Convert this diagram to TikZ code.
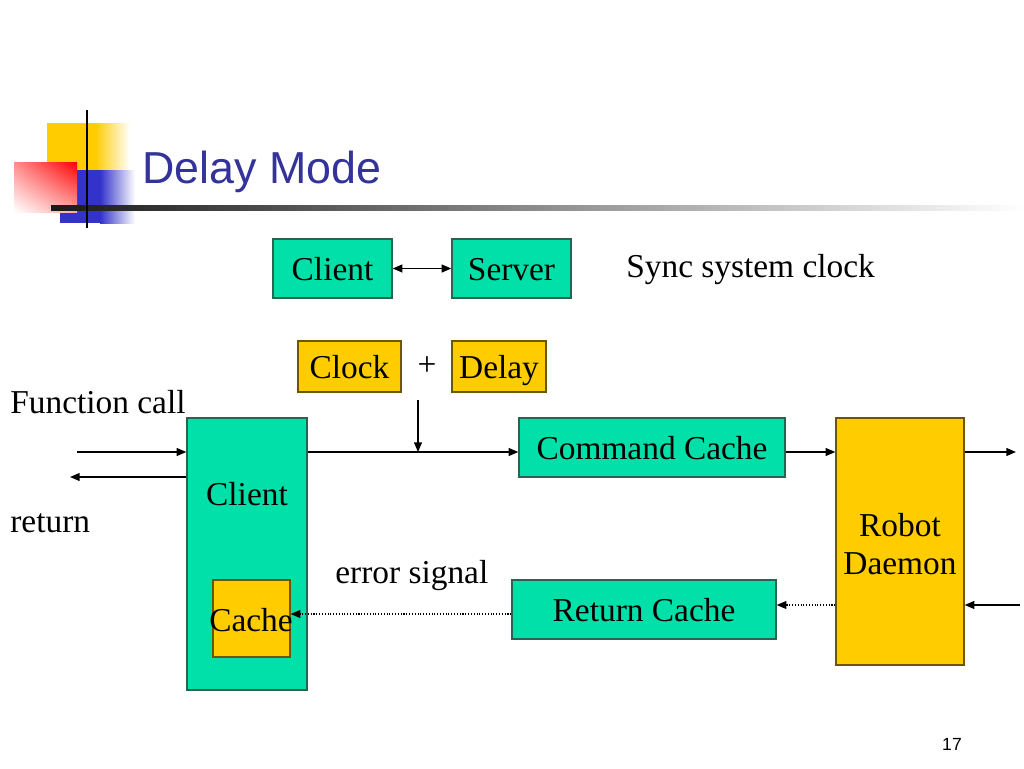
\documentclass[tikz,border=0pt]{standalone}
\usepackage{fontspec}
\setmainfont{Liberation Serif}
\newfontfamily\arialf{Liberation Sans}
\usetikzlibrary{arrows.meta,shadings}
\definecolor{tealc}{RGB}{0,224,168}
\definecolor{tealb}{RGB}{40,100,80}
\definecolor{goldc}{RGB}{255,204,0}
\definecolor{goldb}{RGB}{110,85,0}
\definecolor{titlec}{RGB}{51,51,153}
\definecolor{logoblue}{RGB}{51,51,204}
\begin{document}
\begin{tikzpicture}[x=0.02cm,y=-0.02cm,
  txt/.style={font=\fontsize{19}{22}\selectfont, inner sep=0pt},
  tbox/.style={draw=tealb, fill=tealc, line width=0.8pt, inner sep=0pt, font=\fontsize{19}{22}\selectfont},
  gbox/.style={draw=goldb, fill=goldc, line width=0.8pt, inner sep=0pt, font=\fontsize{19}{22}\selectfont},
  oneline/.style={text height=14pt, text depth=0.4pt},
  conn/.style={line width=0.8pt, -{Triangle[length=5.5pt,width=4.5pt]}},
  dconn/.style={line width=0.6pt, densely dotted, -{Triangle[length=5.5pt,width=4.5pt]}},
  dconnb/.style={line width=0.8pt, {Triangle[length=5.5pt,width=4.5pt]}-{Triangle[length=5.5pt,width=4.5pt]}}
]
\useasboundingbox (0,0) rectangle (1024,768);
\fill[white] (0,0) rectangle (1024,768);
% logo
\fill[goldc] (47,123) rectangle (95,190);
\shade[left color=goldc, right color=white] (95,123) rectangle (130,190);
\fill[logoblue] (60,170) rectangle (100,223);
\shade[left color=logoblue, right color=white] (100,170) rectangle (135,223);
\shade[upper left=red!45, upper right=red, lower left=white, lower right=red!35] (14,162) rectangle (77,212);
\shade[left color=black!90, right color=white] (51,205) rectangle (1024,210);
\draw[line width=1.7pt, black] (87,110) -- (87,228);
\node[anchor=base west, inner sep=0pt, text=titlec, font=\arialf\fontsize{25.5}{30}\selectfont] (title) at (142,183) {Delay Mode};
\node[anchor=base, inner sep=0pt, font=\arialf\fontsize{10}{12}\selectfont] (pnum) at (952,750) {17};
% top
\node[tbox, oneline, minimum width=2.38cm, minimum height=1.18cm] (clienttop) at (332.5,268.5) {Client};
\node[tbox, oneline, minimum width=2.38cm, minimum height=1.18cm] (server) at (511.5,268.5) {Server};
\draw[dconnb] (clienttop.east) -- (server.west);
\node[txt, anchor=base west] (sync) at (626,277) {Sync system clock};
\node[gbox, oneline, minimum width=2.06cm, minimum height=1.02cm] (clock) at (349.5,366.5) {Clock};
\node[gbox, oneline, minimum width=1.88cm, minimum height=1.02cm] (delay) at (499,366.5) {Delay};
\node[txt] (plus) at (427,366) {+};
% texts
\node[txt, anchor=base west] (fcall) at (10,413) {Function call};
\node[txt, anchor=base west] (ret) at (10,532) {return};
\node[txt, anchor=base west] (err) at (335,583) {error signal};
% main boxes
\node[tbox, minimum width=2.4cm, minimum height=5.44cm] (clientbig) at (247,554) {};
\node[txt, anchor=base] (clientlbl) at (247,505) {Client};
\node[gbox, minimum width=1.54cm, minimum height=1.54cm] (cache) at (251.5,618.5) {};
\node[txt, anchor=base] (cachelbl) at (251,631) {Cache};
\node[tbox, oneline, minimum width=5.32cm, minimum height=1.18cm] (cmd) at (652,447.5) {Command Cache};
\node[gbox, minimum width=2.56cm, minimum height=4.94cm] (robot) at (900,541.5) {};
\node[txt, align=center] (robotlbl) at (900,544) {Robot\\[0pt]Daemon};
\node[tbox, oneline, minimum width=5.28cm, minimum height=1.18cm] (retc) at (644,609.5) {Return Cache};
% coordinates
\coordinate (fin) at (77,452);
\coordinate (rout) at (70,477);
\coordinate (j) at (418,452);
\coordinate (vtop) at (418,400);
\coordinate (rout2) at (1016,452);
\coordinate (rin) at (1020,605);
\coordinate (ey) at (0,614);
% connectors
\draw[conn] (fin) -- (fin -| clientbig.west);
\draw[conn] (clientbig.west |- rout) -- (rout);
\draw[conn] (clientbig.east |- j) -- (cmd.west |- j);
\draw[conn] (vtop) -- (j);
\draw[conn] (cmd.east |- j) -- (robot.west |- j);
\draw[conn] (robot.east |- j) -- (rout2);
\draw[conn] (rin) -- (robot.east |- rin);
\draw[dconn] (robot.west |- rin) -- (retc.east |- rin);
\draw[dconn] (retc.west |- ey) -- (cache.east |- ey);
\end{tikzpicture}
\end{document}
